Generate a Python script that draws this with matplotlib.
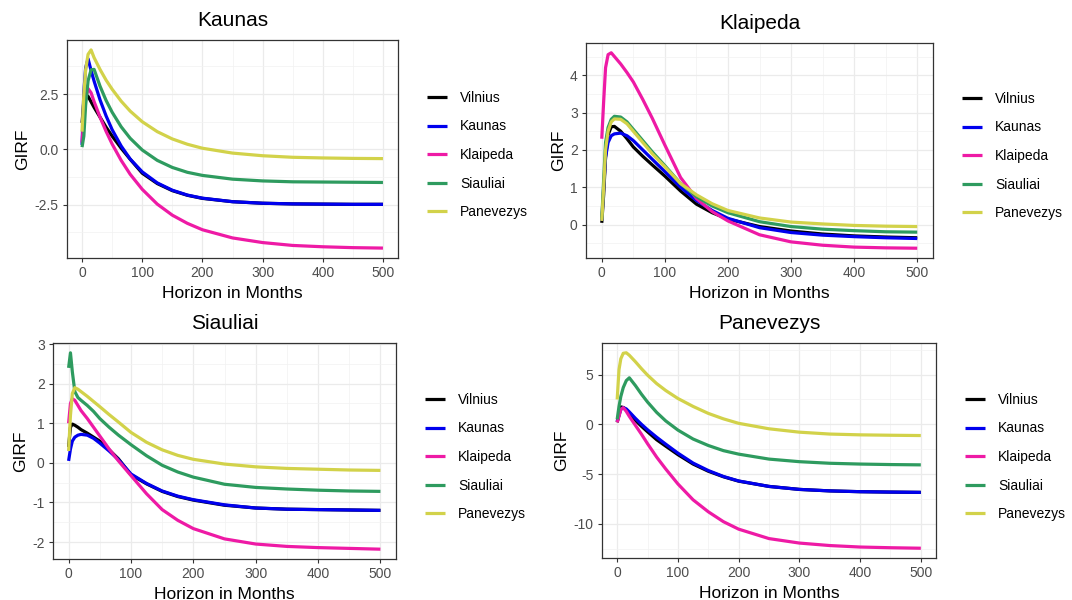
import matplotlib
matplotlib.use("Agg")
import matplotlib.pyplot as plt
from matplotlib.ticker import MultipleLocator, FormatStrFormatter

plt.rcParams['font.family'] = ['Liberation Sans', 'DejaVu Sans']
plt.rcParams['axes.unicode_minus'] = False

horizon = [0, 3, 6, 10, 15, 20, 30, 40, 50, 65, 80, 100, 125, 150, 175, 200, 250, 300, 350, 400, 450, 500]

regions = ['Vilnius', 'Kaunas', 'Klaipeda', 'Siauliai', 'Panevezys']
colors = ['#000000', '#0000EE', '#EE1AA5', '#2E9B5F', '#D2D24A']

# shock in Kaunas
kau_vilnius = [1.2, 2.2, 2.45, 2.4, 2.15, 1.9, 1.45, 1.0, 0.6, 0.05, -0.45, -1.08, -1.55, -1.87, -2.08, -2.22, -2.37, -2.44, -2.47, -2.48, -2.49, -2.49]
kau_kaunas = [0.2, 2.6, 3.7, 4.1, 3.57, 3.09, 2.23, 1.51, 0.89, 0.15, -0.44, -1.02, -1.52, -1.85, -2.07, -2.21, -2.37, -2.44, -2.47, -2.48, -2.49, -2.49]
kau_klaipeda = [0.3, 1.5, 2.3, 2.75, 2.56, 2.16, 1.45, 0.81, 0.24, -0.5, -1.13, -1.81, -2.48, -2.98, -3.35, -3.64, -4.01, -4.22, -4.35, -4.41, -4.45, -4.47]
kau_siauliai = [0.1, 0.6, 2.0, 3.1, 3.6, 3.62, 2.85, 2.21, 1.68, 1.02, 0.5, -0.03, -0.5, -0.82, -1.04, -1.18, -1.35, -1.43, -1.47, -1.48, -1.49, -1.5]
kau_panevezys = [0.8, 2.5, 3.6, 4.3, 4.5, 4.15, 3.61, 3.13, 2.72, 2.18, 1.73, 1.25, 0.8, 0.47, 0.23, 0.05, -0.17, -0.29, -0.36, -0.39, -0.41, -0.42]

# shock in Klaipeda
kla_vilnius = [0.05, 0.8, 1.8, 2.4, 2.62, 2.63, 2.5, 2.3, 2.08, 1.83, 1.6, 1.3, 0.9, 0.55, 0.32, 0.15, -0.05, -0.17, -0.25, -0.3, -0.33, -0.35]
kla_kaunas = [0.1, 1.0, 1.8, 2.2, 2.38, 2.43, 2.45, 2.38, 2.25, 2.0, 1.75, 1.42, 1.0, 0.65, 0.38, 0.17, -0.08, -0.21, -0.28, -0.32, -0.35, -0.37]
kla_klaipeda = [2.3, 3.3, 4.2, 4.55, 4.6, 4.5, 4.3, 4.07, 3.82, 3.35, 2.85, 2.13, 1.26, 0.7, 0.35, 0.1, -0.27, -0.46, -0.55, -0.6, -0.62, -0.63]
kla_siauliai = [0.15, 1.2, 2.2, 2.6, 2.82, 2.9, 2.88, 2.75, 2.55, 2.25, 1.95, 1.58, 1.1, 0.75, 0.5, 0.32, 0.08, -0.05, -0.12, -0.16, -0.19, -0.2]
kla_panevezys = [0.1, 1.0, 2.0, 2.5, 2.75, 2.83, 2.82, 2.7, 2.5, 2.2, 1.9, 1.55, 1.1, 0.8, 0.56, 0.38, 0.18, 0.07, 0.02, -0.02, -0.04, -0.05]

# shock in Siauliai
sia_vilnius = [0.4, 0.9, 0.98, 0.95, 0.9, 0.84, 0.75, 0.65, 0.55, 0.33, 0.1, -0.3, -0.53, -0.72, -0.85, -0.94, -1.07, -1.14, -1.17, -1.18, -1.19, -1.2]
sia_kaunas = [0.05, 0.35, 0.55, 0.65, 0.7, 0.72, 0.7, 0.62, 0.5, 0.3, 0.08, -0.28, -0.52, -0.71, -0.84, -0.93, -1.06, -1.14, -1.17, -1.18, -1.19, -1.2]
sia_klaipeda = [1.0, 1.5, 1.62, 1.58, 1.45, 1.32, 1.12, 0.9, 0.68, 0.35, 0.05, -0.32, -0.78, -1.18, -1.45, -1.66, -1.92, -2.05, -2.11, -2.14, -2.16, -2.18]
sia_siauliai = [2.4, 2.78, 2.3, 1.8, 1.65, 1.58, 1.45, 1.3, 1.12, 0.9, 0.7, 0.46, 0.18, -0.06, -0.23, -0.36, -0.54, -0.62, -0.66, -0.69, -0.71, -0.72]
sia_panevezys = [0.3, 1.2, 1.75, 1.9, 1.86, 1.8, 1.68, 1.55, 1.42, 1.22, 1.03, 0.77, 0.52, 0.33, 0.19, 0.09, -0.03, -0.1, -0.14, -0.16, -0.18, -0.19]

# shock in Panevezys
pan_vilnius = [0.2, 1.0, 1.75, 1.7, 1.45, 1.1, 0.4, -0.2, -0.75, -1.55, -2.2, -3.05, -4.0, -4.72, -5.28, -5.72, -6.25, -6.55, -6.7, -6.78, -6.82, -6.85]
pan_kaunas = [0.3, 0.9, 1.5, 1.68, 1.55, 1.25, 0.6, 0.0, -0.55, -1.3, -2.0, -2.9, -3.9, -4.65, -5.25, -5.7, -6.25, -6.55, -6.7, -6.78, -6.82, -6.85]
pan_klaipeda = [0.2, 0.8, 1.5, 1.68, 1.3, 0.8, -0.1, -1.0, -1.95, -3.3, -4.5, -6.0, -7.6, -8.8, -9.8, -10.55, -11.5, -11.95, -12.2, -12.35, -12.42, -12.47]
pan_siauliai = [0.5, 1.8, 2.8, 3.7, 4.4, 4.68, 3.9, 3.03, 2.24, 1.2, 0.34, -0.58, -1.48, -2.13, -2.65, -3.0, -3.5, -3.76, -3.92, -4.0, -4.05, -4.08]
pan_panevezys = [2.5, 5.5, 6.6, 7.15, 7.2, 6.95, 6.3, 5.6, 4.95, 4.1, 3.4, 2.6, 1.8, 1.1, 0.55, 0.1, -0.45, -0.79, -0.98, -1.06, -1.1, -1.13]

panels = [
    ('Kaunas', [kau_vilnius, kau_kaunas, kau_klaipeda, kau_siauliai, kau_panevezys],
     [67, 40, 398, 258], 2.5, '%.1f', (414, 155)),
    ('Klaipeda', [kla_vilnius, kla_kaunas, kla_klaipeda, kla_siauliai, kla_panevezys],
     [586, 43, 933, 258], 1, '%d', (949, 156)),
    ('Siauliai', [sia_vilnius, sia_kaunas, sia_klaipeda, sia_siauliai, sia_panevezys],
     [53, 343, 396, 559], 1, '%d', (412, 457)),
    ('Panevezys', [pan_vilnius, pan_kaunas, pan_klaipeda, pan_siauliai, pan_panevezys],
     [602, 343, 936, 558], 5, '%d', (952, 457)),
]

W, H = 1072, 600
fig = plt.figure(figsize=(W / 100, H / 100), dpi=100)

for title, series, box, ystep, yfmt, leg in panels:
    l, t, r, b = box
    ax = fig.add_axes([l / W, 1 - b / H, (r - l) / W, (b - t) / H])
    for name, vals, c in zip(regions, series, colors):
        ax.plot(horizon, vals, color=c, lw=2.3, label=name, solid_capstyle='butt')

    ax.xaxis.set_major_locator(MultipleLocator(100))
    ax.xaxis.set_minor_locator(MultipleLocator(50))
    ax.yaxis.set_major_locator(MultipleLocator(ystep))
    ax.yaxis.set_minor_locator(MultipleLocator(ystep / 2))
    ax.yaxis.set_major_formatter(FormatStrFormatter(yfmt))
    ax.grid(True, which='major', color='#EBEBEB', lw=0.9)
    ax.grid(True, which='minor', color='#F2F2F2', lw=0.5)
    ax.set_axisbelow(True)
    for s in ax.spines.values():
        s.set_color('#333333')
        s.set_linewidth(0.9)
    ax.tick_params(which='major', length=3, width=0.8, color='#333333',
                   labelsize=10, labelcolor='#4D4D4D', pad=3)
    ax.tick_params(which='minor', length=0)

    ax.set_title(title, fontsize=15, pad=10)
    ax.set_xlabel('Horizon in Months', fontsize=12.5, labelpad=4)
    ax.set_ylabel('GIRF', fontsize=12.5, labelpad=3)

    ax.legend(loc='center left', bbox_to_anchor=(leg[0] / W, 1 - leg[1] / H),
              bbox_transform=fig.transFigure, frameon=False, fontsize=10,
              handlelength=1.5, handletextpad=0.9, labelspacing=1.05,
              borderpad=0.4)

fig.savefig('out.png', dpi=100)
